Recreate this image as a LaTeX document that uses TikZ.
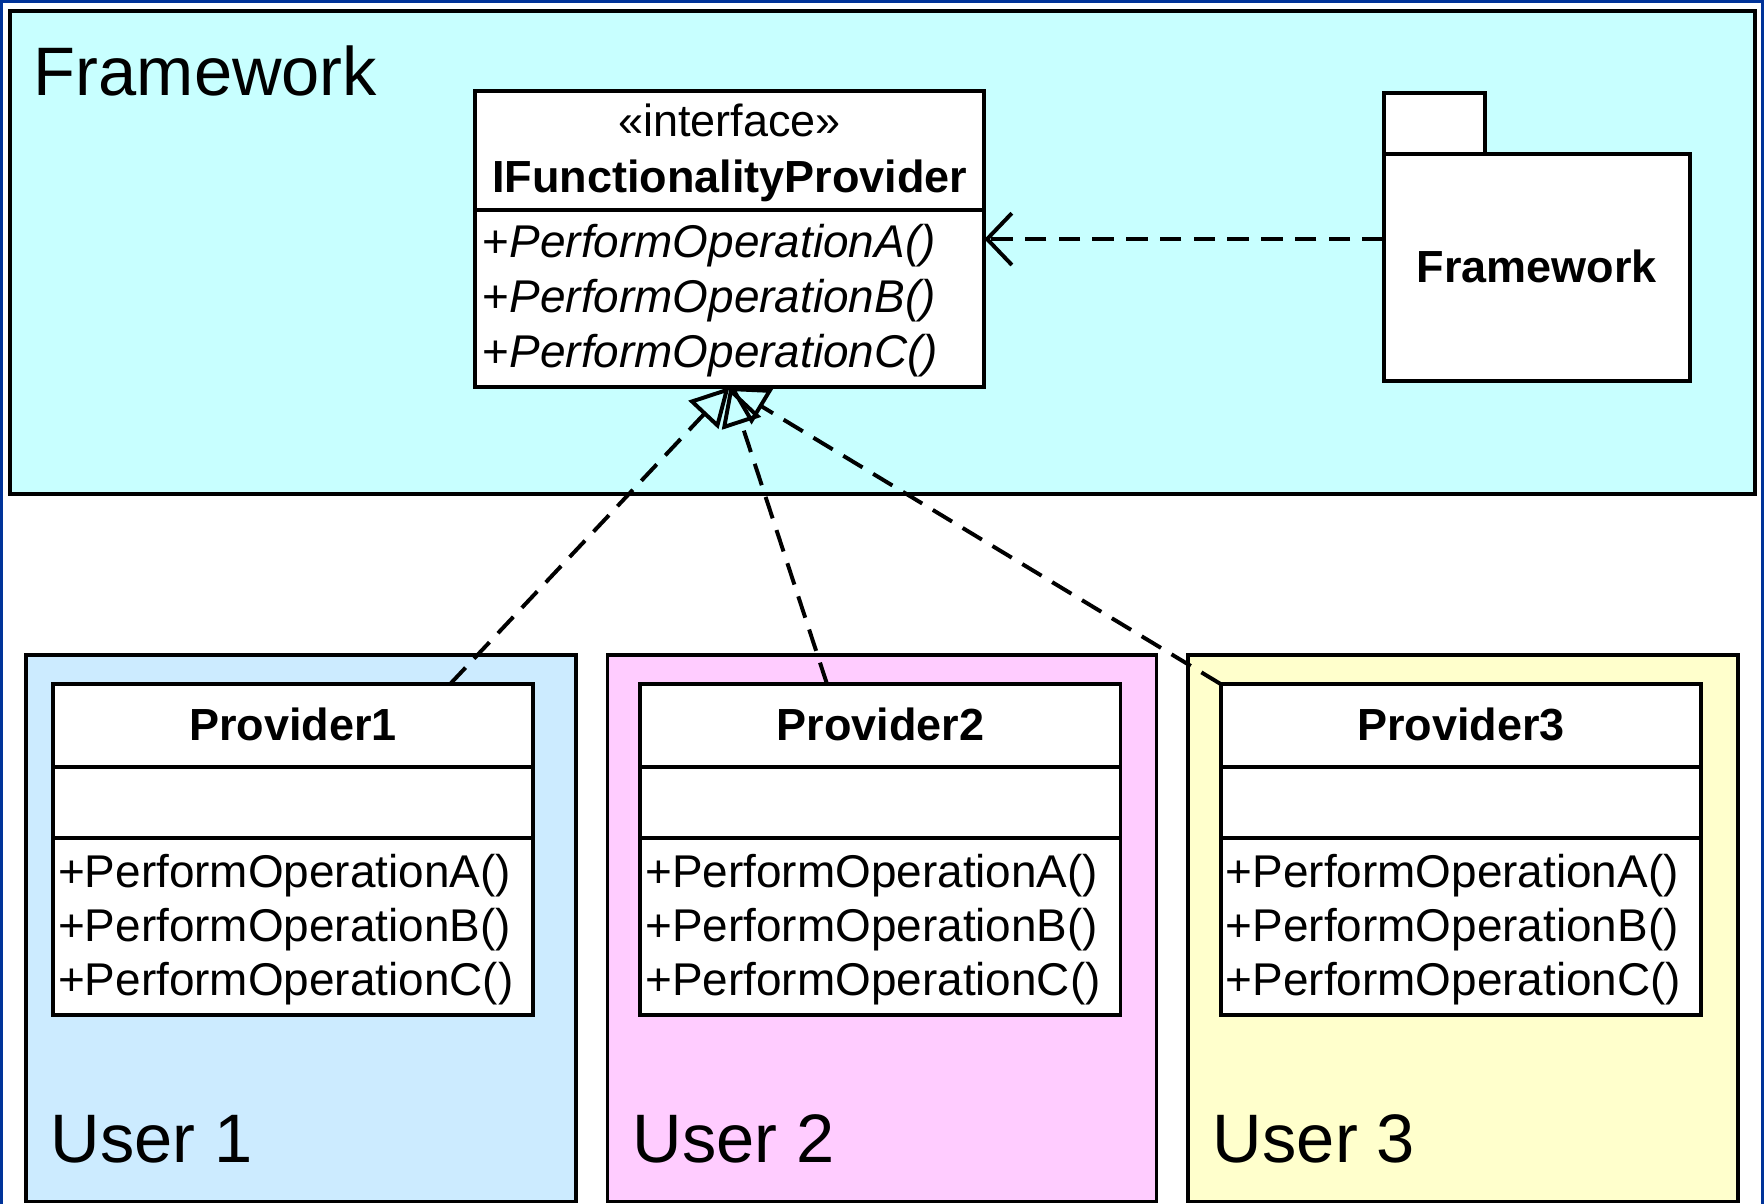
\documentclass[tikz,border=0pt]{standalone}
\usepackage{fontspec}
\setmainfont{Liberation Sans}
\usetikzlibrary{arrows.meta,calc}
\definecolor{fwcyan}{HTML}{C8FFFF}
\definecolor{uone}{HTML}{CCEBFF}
\definecolor{utwo}{HTML}{FFCCFF}
\definecolor{uthree}{HTML}{FFFFCC}
\definecolor{edgeblue}{HTML}{003399}
\tikzset{
  zone/.style={draw=black, line width=3.5pt, inner sep=0pt, outer sep=0pt, anchor=north west},
  classbox/.style={draw=black, fill=white, line width=3.5pt, inner sep=0pt, outer sep=0pt, anchor=north west},
  divider/.style={line width=3.5pt},
  big/.style={inner sep=0pt, anchor=base west, font=\fontsize{61}{70}\selectfont},
  member/.style={inner sep=0pt, anchor=base west, font=\fontsize{40.8}{48}\selectfont},
  cname/.style={inner sep=0pt, anchor=base, font=\fontsize{40}{48}\selectfont\bfseries},
  stereo/.style={inner sep=0pt, anchor=base, font=\fontsize{40}{48}\selectfont},
  realize/.style={line width=3.5pt, dash pattern=on 20pt off 11pt, -{Triangle[open, length=34pt, width=36pt]}},
  depend/.style={line width=3.5pt, dash pattern=on 19pt off 11pt, -{Straight Barb[length=22pt, width=46pt]}},
}
\begin{document}
\begin{tikzpicture}[x=1pt,y=-1pt]
\useasboundingbox (0,0) rectangle (1568,1070);
\fill[white] (0,0) rectangle (1568,1070);
% outer blue edge
\draw[edgeblue, line width=3pt] (1.5,1070) -- (1.5,1.5) -- (1566.5,1.5) -- (1566.5,1070);

% framework zone
\node[zone, fill=fwcyan, minimum width=1551pt, minimum height=429pt] (fw) at (9,10) {};
\node[big] (fwtitle) at (30,85) {Framework};

% user zones
\node[zone, fill=uone, minimum width=489pt, minimum height=486pt] (u1) at (23,582) {};
\node[zone, fill=utwo, minimum width=488pt, minimum height=486pt] (u2) at (540,582) {};
\node[zone, fill=uthree, minimum width=489pt, minimum height=486pt] (u3) at (1056,582) {};
\node[big] (u1t) at (45,1033) {User 1};
\node[big] (u2t) at (562,1033) {User 2};
\node[big] (u3t) at (1078,1033) {User 3};

% interface
\node[classbox, minimum width=453pt, minimum height=263pt] (iface) at (422,81) {};
\draw[divider] (422,187) -- (875,187);
\node[stereo] (ister) at (648.5,121) {«interface»};
\node[cname] (iname) at (648.5,171) {IFunctionalityProvider};
\node[member] (ia) at (429,229) {+\textit{PerformOperationA()}};
\node[member] (ib) at (429,278) {+\textit{PerformOperationB()}};
\node[member] (ic) at (429,327) {+\textit{PerformOperationC()}};

% package
\node[classbox, minimum width=90pt, minimum height=54pt] (pkgtab) at (1230,83) {};
\node[classbox, minimum width=272pt, minimum height=202pt] (pkg) at (1230,137) {};
\node[cname] (pkgname) at (1366,251) {Framework};

% providers
\foreach \n/\x in {1/47, 2/569, 3/1085} {
  \node[classbox, minimum width=427pt, minimum height=294pt] (p\n) at (\x,608) {};
  \draw[divider] (\x,682) -- ++(427,0);
  \draw[divider] (\x,745) -- ++(427,0);
  \node[cname] (p\n name) at (\x+213.5,658) {Provider\n};
  \node[member] (p\n a) at (\x+4.5,789) {+PerformOperationA()};
  \node[member] (p\n b) at (\x+4.5,837) {+PerformOperationB()};
  \node[member] (p\n c) at (\x+4.5,885) {+PerformOperationC()};
}

% connectors
\draw[depend] (pkg.west |- iface.east) -- (iface.east);
\draw[realize] ($(p1.north west)!0.827!(p1.north east)$) -- (iface.south);
\draw[realize] ($(p2.north west)!0.389!(p2.north east)$) -- (iface.south);
\draw[realize] (p3.north west) -- (iface.south);
\end{tikzpicture}
\end{document}
